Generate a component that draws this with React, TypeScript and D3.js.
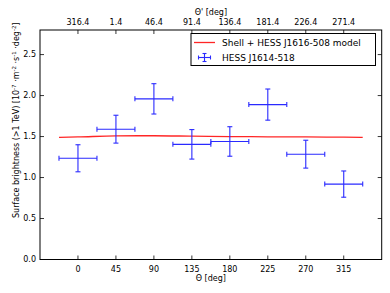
import { useMemo } from "react";
import * as d3 from "d3";

const W = 390;
const H = 293;
const MARGIN = { top: 30, right: 8.3, bottom: 33.5, left: 40 };

const theta = [0, 45, 90, 135, 180, 225, 270, 315];
const brightness = [1.235, 1.59, 1.96, 1.405, 1.44, 1.89, 1.285, 0.92];
const brightnessErr = [0.165, 0.17, 0.185, 0.18, 0.18, 0.19, 0.17, 0.16];
const thetaErr = 22.5;

const modelTheta = [-22.5, 0, 45, 90, 135, 180, 225, 270, 315, 337.5];
const modelValue = [1.49, 1.495, 1.508, 1.51, 1.505, 1.5, 1.497, 1.495, 1.492, 1.49];

const bottomTicks = [0, 45, 90, 135, 180, 225, 270, 315];
const topTickLabels = ["316.4", "1.4", "46.4", "91.4", "136.4", "181.4", "226.4", "271.4"];
const yTicks = [0, 0.5, 1.0, 1.5, 2.0, 2.5];

const FONT = "DejaVu Sans, sans-serif";
const BLUE = "#2a2aff";

export default function App() {
  const iw = W - MARGIN.left - MARGIN.right;
  const ih = H - MARGIN.top - MARGIN.bottom;

  const x = useMemo(() => d3.scaleLinear().domain([-45, 360]).range([0, iw]), [iw]);
  const y = useMemo(() => d3.scaleLinear().domain([0, 2.8]).range([ih, 0]), [ih]);

  const modelPath = useMemo(() => {
    const line = d3
      .line<number>()
      .x((_, i) => x(modelTheta[i]))
      .y((d) => y(d))
      .curve(d3.curveMonotoneX);
    return line(modelValue) ?? "";
  }, [x, y]);

  const cap = 2.5;
  const tl = 4;

  return (
    <svg width={W} height={H} style={{ position: "absolute", left: 0, top: 0 }} fontFamily={FONT}>
      <rect width={W} height={H} fill="white" />
      <g transform={`translate(${MARGIN.left},${MARGIN.top})`}>
        {/* model line */}
        <path d={modelPath} fill="none" stroke="red" strokeWidth={1.3} opacity={0.85} />

        {/* data points */}
        {theta.map((t, i) => {
          const cx = x(t);
          const cy = y(brightness[i]);
          const y0 = y(brightness[i] - brightnessErr[i]);
          const y1 = y(brightness[i] + brightnessErr[i]);
          const x0 = x(t - thetaErr);
          const x1 = x(t + thetaErr);
          return (
            <g key={i} stroke={BLUE} strokeWidth={1.1}>
              <line x1={x0} x2={x1} y1={cy} y2={cy} />
              <line x1={cx} x2={cx} y1={y0} y2={y1} />
              <line x1={x0} x2={x0} y1={cy - cap} y2={cy + cap} />
              <line x1={x1} x2={x1} y1={cy - cap} y2={cy + cap} />
              <line x1={cx - cap} x2={cx + cap} y1={y0} y2={y0} />
              <line x1={cx - cap} x2={cx + cap} y1={y1} y2={y1} />
            </g>
          );
        })}

        {/* frame */}
        <rect width={iw} height={ih} fill="none" stroke="black" strokeWidth={1} />

        {/* bottom ticks */}
        {bottomTicks.map((t) => (
          <g key={`b${t}`} transform={`translate(${x(t)},0)`}>
            <line y1={ih} y2={ih - tl} stroke="black" strokeWidth={0.8} />
            <text y={ih + 12} textAnchor="middle" fontSize={8}>
              {t}
            </text>
          </g>
        ))}

        {/* top ticks */}
        {bottomTicks.map((t, i) => (
          <g key={`t${t}`} transform={`translate(${x(t)},0)`}>
            <line y1={0} y2={tl} stroke="black" strokeWidth={0.8} />
            <text y={-5} textAnchor="middle" fontSize={8}>
              {topTickLabels[i]}
            </text>
          </g>
        ))}

        {/* y ticks */}
        {yTicks.map((v) => (
          <g key={`y${v}`} transform={`translate(0,${y(v)})`}>
            <line x1={0} x2={tl} stroke="black" strokeWidth={0.8} />
            <line x1={iw} x2={iw - tl} stroke="black" strokeWidth={0.8} />
            <text x={-4} dy="0.35em" textAnchor="end" fontSize={8}>
              {v.toFixed(1)}
            </text>
          </g>
        ))}

        {/* axis labels */}
        <text x={iw / 2} y={ih + 21.5} textAnchor="middle" fontSize={8}>
          Θ [deg]
        </text>
        <text x={iw / 2} y={-15} textAnchor="middle" fontSize={8}>
          Θ' [deg]
        </text>
        <text
          transform={`translate(-21,${218 - MARGIN.top}) rotate(-90)`}
          textAnchor="start"
          fontSize={8}
        >
          Surface brightness (&gt;1 TeV) [10
          <tspan dy={-3.2} fontSize={5.5}>-7</tspan>
          <tspan dy={3.2}> ·m</tspan>
          <tspan dy={-3.2} fontSize={5.5}>-2</tspan>
          <tspan dy={3.2}> ·s</tspan>
          <tspan dy={-3.2} fontSize={5.5}>-1</tspan>
          <tspan dy={3.2}> ·deg</tspan>
          <tspan dy={-3.2} fontSize={5.5}>-2</tspan>
          <tspan dy={3.2}>]</tspan>
        </text>

        {/* legend */}
        <g transform={`translate(${191 - MARGIN.left},${33.5 - MARGIN.top})`}>
          <rect width={184.5} height={32} fill="white" stroke="black" strokeWidth={1} />
          <line x1={3} x2={24} y1={9} y2={9} stroke="red" strokeWidth={1.3} opacity={0.85} />
          <text x={31} y={12.3} fontSize={9}>
            Shell + HESS J1616-508 model
          </text>
          <g stroke={BLUE} strokeWidth={1.1}>
            <line x1={7.5} x2={19.5} y1={24} y2={24} />
            <line x1={13.5} x2={13.5} y1={20} y2={28} />
            <line x1={7.5} x2={7.5} y1={22} y2={26} />
            <line x1={19.5} x2={19.5} y1={22} y2={26} />
            <line x1={11.5} x2={15.5} y1={20} y2={20} />
            <line x1={11.5} x2={15.5} y1={28} y2={28} />
          </g>
          <text x={31} y={27.3} fontSize={9}>
            HESS J1614-518
          </text>
        </g>
      </g>
    </svg>
  );
}
